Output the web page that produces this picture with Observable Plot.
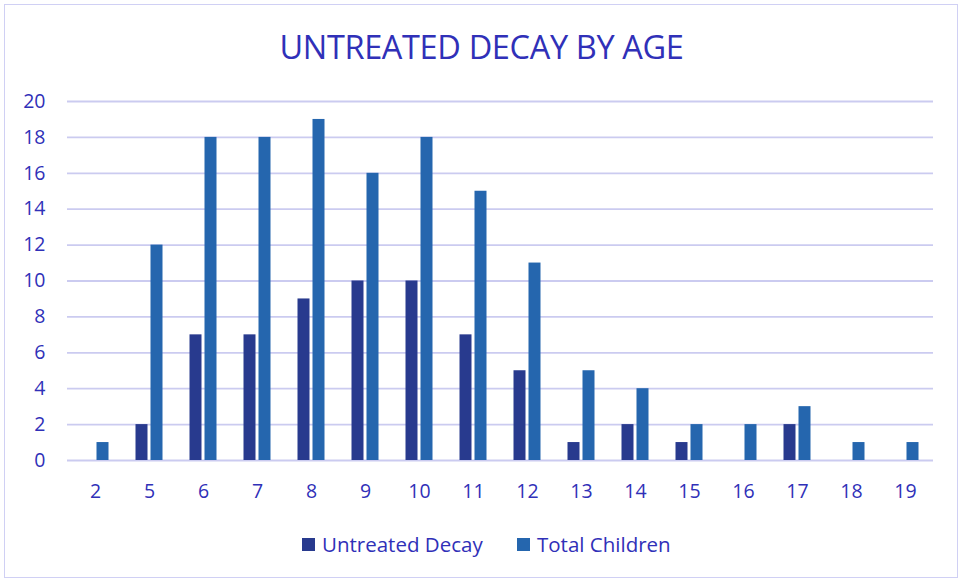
<!DOCTYPE html>
<html><head><meta charset="utf-8">
<script src="https://cdn.jsdelivr.net/npm/d3@7"></script>
<script src="https://cdn.jsdelivr.net/npm/@observablehq/plot@0.6"></script>
<style>
body{margin:0;background:#fff;font-family:"Open Sans","Noto Sans",sans-serif;}
#wrap{position:relative;width:963px;height:583px;overflow:hidden;}
#frame{position:absolute;left:4px;top:4px;width:954px;height:574px;border:1.5px solid #d0d0f4;box-sizing:border-box;}
#title{position:absolute;left:0;top:24px;width:963px;text-align:center;font-size:32.5px;color:#3030b8;letter-spacing:-0.35px;}
#chart{position:absolute;left:0;top:80px;}
#legend{position:absolute;top:530px;left:0;width:963px;height:28px;font-size:20.5px;color:#3030b8;}
.li{position:absolute;top:0;display:flex;align-items:center;gap:7px;}
.sw{width:13px;height:13px;display:inline-block;}
</style></head><body>
<div id="wrap">
<div id="frame"></div>
<div id="title">UNTREATED DECAY BY AGE</div>
<div id="chart"></div>
<div id="legend"></div>
</div>
<script>
const ages = ["2","5","6","7","8","9","10","11","12","13","14","15","16","17","18","19"];
const untreatedDecay = [0,2,7,7,9,10,10,7,5,1,2,1,0,2,0,0];
const totalChildren = [1,12,18,18,19,16,18,15,11,5,4,2,2,3,1,1];
const yTicks = [0,2,4,6,8,10,12,14,16,18,20];
const seriesNames = ["Untreated Decay","Total Children"];
const seriesColors = ["#283a8e","#2566ae"];

const textColor = "#3030b8";
const rows = ages.map((a,i)=>({age:a,u:untreatedDecay[i],t:totalChildren[i]}));

const chart = Plot.plot({
  width: 963,
  height: 430,
  marginLeft: 67,
  marginRight: 30,
  marginTop: 21,
  marginBottom: 50,
  style: {fontFamily:"'Open Sans','Noto Sans',sans-serif", fontSize:"19px", color:textColor, background:"transparent"},
  x: {type:"band", domain: ages, padding:0, label:null},
  y: {domain:[0,20], label:null},
  marks: [
    Plot.ruleY(yTicks, {stroke:"#cbcbf0", strokeWidth:1.8}),
    Plot.barY(rows, {x:"age", y:"u", fill:seriesColors[0], insetLeft:13.5, insetRight:28.5}),
    Plot.barY(rows, {x:"age", y:"t", fill:seriesColors[1], insetLeft:28.5, insetRight:13.5}),
    Plot.axisX({tickSize:0, tickPadding:24, fontSize:19.5, fill:textColor}),
    Plot.axisY({ticks:yTicks, tickSize:0, tickPadding:22, fontSize:19.5, fill:textColor})
  ]
});
document.getElementById("chart").appendChild(chart);

const legend = document.getElementById("legend");
const lx = [302, 517];
seriesNames.forEach((n,i)=>{
  const d = document.createElement("div");
  d.className="li"; d.style.left = lx[i]+"px";
  d.innerHTML = `<span class="sw" style="background:${seriesColors[i]}"></span><span>${n}</span>`;
  legend.appendChild(d);
});
</script>
</body></html>
